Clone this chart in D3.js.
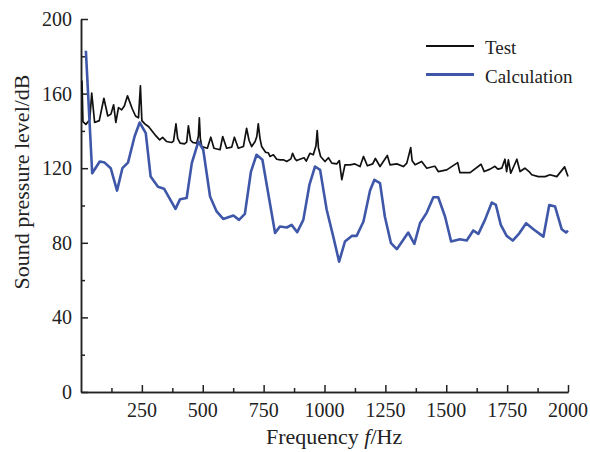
<!DOCTYPE html>
<html>
<head>
<meta charset="utf-8">
<script src="https://cdn.jsdelivr.net/npm/d3@7"></script>
<style>
  body { margin: 0; background: #fff; overflow: hidden; }
  svg { display: block; }
  svg text { font-family: "Liberation Serif", "Times New Roman", serif; fill: #222; }
  .axis path, .axis line { stroke: #222; stroke-width: 1.5; }
</style>
</head>
<body>
<div id="chart"></div>
<script>
// Test (measured) spectrum
const testFreq = [4, 8, 20, 36, 44, 56, 75, 94, 110, 123, 134, 143, 154, 167, 178, 191, 210, 224, 236, 244, 250, 262, 278, 304, 323, 335, 352, 372, 380, 390, 397, 407, 425, 434, 441, 450, 459, 475, 482, 486, 490, 496, 519, 533, 546, 571, 582, 598, 619, 630, 646, 667, 680, 690, 701, 715, 722, 728, 735, 742, 758, 769, 776, 790, 804, 818, 831, 845, 862, 869, 879, 886, 899, 916, 925, 940, 954, 965, 970, 975, 984, 1002, 1016, 1030, 1050, 1061, 1071, 1084, 1105, 1125, 1146, 1160, 1176, 1198, 1209, 1228, 1258, 1269, 1297, 1324, 1338, 1354, 1360, 1372, 1399, 1420, 1447, 1454, 1467, 1502, 1547, 1556, 1598, 1643, 1656, 1680, 1700, 1712, 1728, 1741, 1748, 1755, 1765, 1790, 1803, 1823, 1840, 1851, 1878, 1906, 1926, 1954, 1986, 2000];
const testLevel = [167, 145, 143.5, 146, 160.3, 144.5, 145.5, 157.5, 148, 149, 154, 144.5, 152.5, 151.3, 153.3, 158.8, 152, 148, 147, 164.2, 145.5, 143.8, 142.2, 137.9, 135.2, 136.5, 134.3, 133.8, 134.5, 143.8, 136, 133.4, 133, 134, 142.7, 135, 133.8, 133.4, 137, 147, 136, 131.6, 130.7, 136.6, 130.7, 129.9, 137, 130.7, 131.3, 136.6, 130.7, 131.6, 141.4, 135, 131.6, 134.3, 137, 143.8, 136, 131.6, 128.5, 128.3, 126.3, 127.2, 124.8, 124.5, 124.5, 123.6, 125, 128, 125, 124.1, 124.8, 125.6, 123.8, 128, 127.2, 132, 140.2, 131, 126.3, 123.6, 125.6, 122.7, 122.3, 124.1, 113.8, 121.8, 121.8, 122.3, 120.9, 126.3, 121.3, 122.3, 125.2, 120.9, 126.8, 121.8, 122.3, 120.9, 122.7, 131, 124, 121.8, 123.6, 120, 120.9, 121, 118.2, 119.1, 123, 117.6, 117.6, 122.1, 118.2, 119.5, 121, 119.5, 120, 124.8, 118.2, 124.5, 117.3, 124.8, 118.2, 120, 118.2, 116.5, 115.5, 115.5, 116.5, 115.5, 120.7, 115.5];

// Calculation spectrum
const calcFreq = [20, 46, 77, 97, 122, 148, 170, 193, 220, 241, 266, 286, 316, 341, 388, 407, 434, 455, 482, 502, 530, 557, 584, 626, 649, 673, 698, 721, 745, 797, 817, 845, 865, 888, 913, 938, 961, 982, 1009, 1036, 1060, 1084, 1112, 1132, 1160, 1187, 1205, 1228, 1248, 1273, 1297, 1344, 1369, 1392, 1420, 1447, 1467, 1495, 1520, 1556, 1584, 1611, 1632, 1659, 1687, 1704, 1724, 1748, 1773, 1800, 1828, 1858, 1899, 1923, 1947, 1974, 1992, 2000];
const calcLevel = [183, 117.3, 123.6, 123, 120, 108, 120, 123, 137, 144.5, 138.8, 115.5, 110, 109, 98.2, 103.4, 104, 122.7, 134.3, 129.9, 104.8, 96.8, 92.8, 94.6, 92.3, 95.5, 118.2, 127.2, 124.5, 85.3, 88.7, 88.2, 89.6, 85.7, 92.3, 111, 120.9, 119.1, 97.7, 83.3, 69.9, 80.7, 83.7, 83.7, 91.4, 108, 113.8, 112, 94, 79.8, 76.6, 85.5, 79.4, 90.5, 96.2, 104.4, 104.4, 94.1, 80.7, 81.9, 81.2, 86.6, 84.8, 92.3, 101.6, 100.3, 89.6, 83.7, 81.2, 85.1, 90.5, 87.3, 83.3, 100.3, 99.4, 87.3, 85.5, 86.5];

const xTicks = [250, 500, 750, 1000, 1250, 1500, 1750, 2000];
const yTicks = [0, 40, 80, 120, 160, 200];
const seriesNames = ["Test", "Calculation"];
const seriesColors = ["#111111", "#3f57a8"];

const width = 590, height = 452;
const margin = { top: 19, right: 22, bottom: 60, left: 81 };
const innerWidth = width - margin.left - margin.right;
const innerHeight = height - margin.top - margin.bottom;
const serif = "Liberation Serif, Times New Roman, serif";

const svg = d3.select("#chart")
  .append("svg")
    .attr("width", width)
    .attr("height", height);

const innerChart = svg
  .append("g")
    .attr("transform", `translate(${margin.left}, ${margin.top})`);

// Scales
const xScale = d3.scaleLinear()
  .domain([0, 2000])
  .range([0, innerWidth]);
const yScale = d3.scaleLinear()
  .domain([0, 200])
  .range([innerHeight, 0]);

// Axes: ticks point inward, labels drawn separately
const drawAxis = (axis, values, size, transform) => {
  innerChart
    .append("g")
      .attr("class", "axis")
      .attr("transform", transform)
      .call(axis.tickValues(values).tickSizeInner(size).tickSizeOuter(0))
      .call(g => g.selectAll("text").remove());
};
drawAxis(d3.axisBottom(xScale), d3.range(125, 2000, 250), -4, `translate(0, ${innerHeight})`);
drawAxis(d3.axisLeft(yScale), d3.range(20, 200, 40), -4, null);
drawAxis(d3.axisBottom(xScale), xTicks, -7, `translate(0, ${innerHeight})`);
drawAxis(d3.axisLeft(yScale), yTicks, -7, null);

// Tick labels
innerChart
  .selectAll(".x-label")
  .data(xTicks)
  .join("text")
    .attr("class", "x-label")
    .attr("x", d => xScale(d))
    .attr("y", innerHeight + 25)
    .attr("text-anchor", "middle")
    .attr("font-family", serif)
    .attr("font-size", 20)
    .text(d => d);
innerChart
  .selectAll(".y-label")
  .data(yTicks)
  .join("text")
    .attr("class", "y-label")
    .attr("x", -9)
    .attr("y", d => yScale(d) + 7)
    .attr("text-anchor", "end")
    .attr("font-family", serif)
    .attr("font-size", 20)
    .text(d => d);

// Axis titles
const xTitle = svg
  .append("text")
    .attr("x", 266)
    .attr("y", 444)
    .attr("font-size", 22);
xTitle.append("tspan").text("Frequency ");
xTitle.append("tspan").attr("font-style", "italic").text("f");
xTitle.append("tspan").text("/Hz");

svg
  .append("text")
    .attr("transform", `translate(29, 182) rotate(-90)`)
    .attr("text-anchor", "middle")
    .attr("font-size", 22)
    .text("Sound pressure level/dB");

// Lines
const lineGenerator = d3.line()
  .x(d => xScale(d[0]))
  .y(d => yScale(d[1]));

innerChart
  .append("path")
    .datum(testFreq.map((f, i) => [f, testLevel[i]]))
    .attr("d", lineGenerator)
    .attr("fill", "none")
    .attr("stroke", seriesColors[0])
    .attr("stroke-width", 1.7)
    .attr("stroke-linejoin", "round");

innerChart
  .append("path")
    .datum(calcFreq.map((f, i) => [f, calcLevel[i]]))
    .attr("d", lineGenerator)
    .attr("fill", "none")
    .attr("stroke", seriesColors[1])
    .attr("stroke-width", 2.6)
    .attr("stroke-linejoin", "round");

// Legend
const legend = svg
  .append("g")
    .attr("transform", "translate(426, 46)");
seriesNames.forEach((name, i) => {
  legend
    .append("line")
      .attr("x1", 0)
      .attr("x2", 48)
      .attr("y1", i * 28.5)
      .attr("y2", i * 28.5)
      .attr("stroke", seriesColors[i])
      .attr("stroke-width", i === 0 ? 2 : 3);
  legend
    .append("text")
      .attr("x", 59)
      .attr("y", i * 28.5 + 8)
      .attr("font-size", 19)
      .text(name);
});
</script>
</body>
</html>
